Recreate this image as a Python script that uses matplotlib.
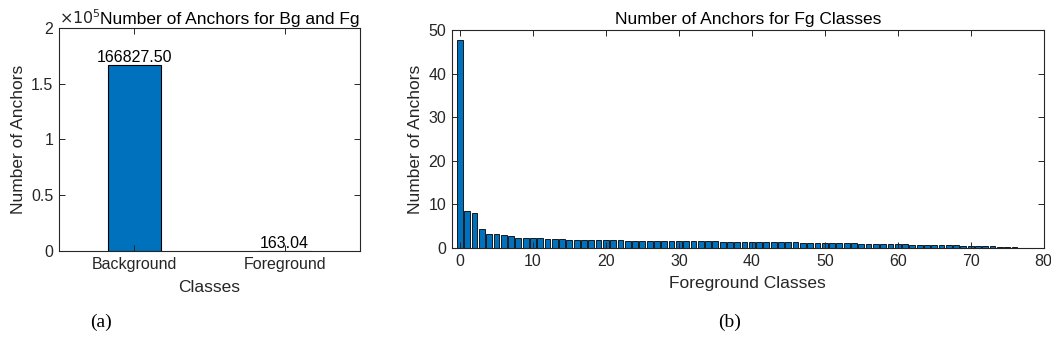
import matplotlib
matplotlib.use('Agg')
import matplotlib.pyplot as plt
import numpy as np

# left panel: mean anchors per image, background vs foreground
bgfg_classes = ['Background', 'Foreground']
bgfg_counts = [166827.50, 163.04]

# right panel: anchors per foreground class (sorted)
fg_counts = [47.7, 8.4, 8.1, 4.4, 3.2, 3.2, 2.9, 2.8, 2.3, 2.25,
             2.2, 2.2, 2.15, 2.1, 2.0, 1.9, 1.9, 1.85, 1.85, 1.8,
             1.8, 1.75, 1.75, 1.72, 1.7, 1.7, 1.68, 1.66, 1.64, 1.62,
             1.6, 1.58, 1.56, 1.55, 1.53, 1.5, 1.48, 1.46, 1.44, 1.42,
             1.4, 1.38, 1.36, 1.34, 1.32, 1.3, 1.27, 1.24, 1.21, 1.18,
             1.15, 1.12, 1.1, 1.07, 1.04, 1.0, 0.98, 0.95, 0.92, 0.9,
             0.87, 0.84, 0.8, 0.77, 0.73, 0.7, 0.66, 0.62, 0.58, 0.54,
             0.5, 0.45, 0.4, 0.35, 0.3, 0.24, 0.17, 0.1]

blue = '#0072BD'
dark = '#262626'

plt.rcParams['font.family'] = ['Liberation Sans', 'DejaVu Sans']
plt.rcParams['font.size'] = 11.5
plt.rcParams['axes.edgecolor'] = dark
plt.rcParams['xtick.color'] = dark
plt.rcParams['ytick.color'] = dark
plt.rcParams['axes.linewidth'] = 0.8


def matlab_axes(ax):
    ax.tick_params(direction='in', top=True, right=True, length=4, width=0.7,
                   labelcolor=dark, labelsize=11.5, pad=4)


fig = plt.figure(figsize=(10.51, 3.54), dpi=100)

# (a)
ax1 = fig.add_axes([0.0561, 0.291, 0.2864, 0.630])
xpos = np.arange(1, len(bgfg_classes) + 1)
ax1.bar(xpos, bgfg_counts, width=0.35, color=blue, edgecolor='black', linewidth=0.8)
for x, v in zip(xpos, bgfg_counts):
    ax1.text(x, v, f'{v:.2f}', ha='center', va='bottom', fontsize=11.5, color='black')
ax1.set_xlim(0.5, 2.5)
ax1.set_ylim(0, 2e5)
ax1.set_xticks(xpos)
ax1.set_xticklabels(bgfg_classes)
ax1.set_yticks([0, 0.5e5, 1e5, 1.5e5, 2e5])
ax1.set_yticklabels(['0', '0.5', '1', '1.5', '2'])
matlab_axes(ax1)
ax1.set_xlabel('Classes', fontsize=12.5, color=dark, labelpad=6)
ax1.set_ylabel('Number of Anchors', fontsize=12.5, color=dark, labelpad=4)
ax1.set_title('Number of Anchors for Bg and Fg', fontsize=12.5, color='black',
              pad=3, x=0.135, ha='left')
ax1.text(0.0, 1.005, r'$\times10^{5}$', transform=ax1.transAxes, ha='left', va='bottom',
         fontsize=11.5, color=dark)

# (b)
ax2 = fig.add_axes([0.430, 0.2994, 0.563, 0.616])
idx = np.arange(len(fg_counts))
ax2.bar(idx, fg_counts, width=0.8, color=blue, edgecolor='black', linewidth=0.6)
ax2.set_xlim(-1.1, 80)
ax2.set_ylim(0, 50)
ax2.set_xticks(np.arange(0, 81, 10))
ax2.set_yticks(np.arange(0, 51, 10))
matlab_axes(ax2)
ax2.set_xlabel('Foreground Classes', fontsize=12.5, color=dark, labelpad=5)
ax2.set_ylabel('Number of Anchors', fontsize=12.5, color=dark, labelpad=4)
ax2.set_title('Number of Anchors for Fg Classes', fontsize=12.5, color='black', pad=4)

fig.text(0.0961, 0.09, '(a)', family='Liberation Serif', fontsize=14, ha='center', va='center')
fig.text(0.6945, 0.09, '(b)', family='Liberation Serif', fontsize=14, ha='center', va='center')

plt.savefig('out.png', dpi=100)
